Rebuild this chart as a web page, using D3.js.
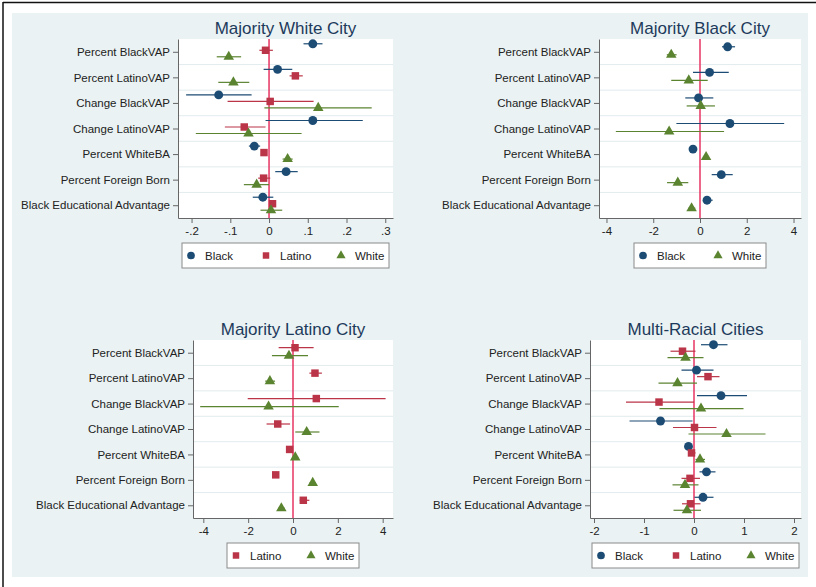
<!DOCTYPE html>
<html>
<head>
<meta charset="utf-8">
<script src="https://cdn.jsdelivr.net/npm/d3@7"></script>
<style>
  body { margin: 0; background: #fff; }
  svg { display: block; font-family: "Liberation Sans", Arial, sans-serif; }
</style>
</head>
<body>
<svg id="chart" width="816" height="587"></svg>
<script>
const categories = [
  "Percent BlackVAP", "Percent LatinoVAP", "Change BlackVAP", "Change LatinoVAP",
  "Percent WhiteBA", "Percent Foreign Born", "Black Educational Advantage"
];

// each row: [estimate, lower, upper]
const whiteCityBlack = [[0.113, 0.089, 0.138], [0.022, -0.014, 0.060], [-0.130, -0.214, -0.045], [0.113, -0.009, 0.242], [-0.038, -0.052, -0.023], [0.044, 0.016, 0.074], [-0.016, -0.042, 0.011]];
const whiteCityLatino = [[-0.009, -0.025, 0.010], [0.068, 0.053, 0.087], [0.003, -0.107, 0.115], [-0.064, -0.114, -0.009], [-0.013, -0.019, -0.006], [-0.014, -0.028, 0.003], [0.009, 0.003, 0.016]];
const whiteCityWhite = [[-0.104, -0.135, -0.072], [-0.092, -0.131, -0.051], [0.127, -0.012, 0.265], [-0.053, -0.189, 0.084], [0.048, 0.035, 0.061], [-0.032, -0.065, 0.0], [0.005, -0.022, 0.034]];

const blackCityBlack = [[1.18, 0.94, 1.50], [0.41, -0.30, 1.23], [-0.06, -0.63, 0.57], [1.28, -1.01, 3.60], [-0.30, -0.38, -0.20], [0.91, 0.50, 1.40], [0.30, 0.16, 0.54]];
const blackCityWhite = [[-1.23, -1.42, -1.00], [-0.48, -1.23, 0.33], [0.03, -0.57, 0.64], [-1.32, -3.60, 1.03], [0.26, 0.16, 0.36], [-0.95, -1.41, -0.50], [-0.36, -0.50, -0.20]];

const latinoCityLatino = [[0.09, -0.64, 0.92], [0.98, 0.73, 1.29], [1.04, -2.02, 4.13], [-0.68, -1.18, -0.13], [-0.15, -0.28, -0.01], [-0.77, -0.91, -0.64], [0.46, 0.30, 0.73]];
const latinoCityWhite = [[-0.18, -0.94, 0.67], [-1.03, -1.24, -0.80], [-1.09, -4.14, 2.04], [0.61, 0.10, 1.18], [0.10, -0.01, 0.24], [0.88, 0.74, 1.01], [-0.52, -0.67, -0.37]];

const multiCityBlack = [[0.39, 0.14, 0.67], [0.05, -0.25, 0.39], [0.54, 0.06, 1.06], [-0.67, -1.29, -0.03], [-0.11, -0.17, -0.04], [0.25, 0.11, 0.43], [0.18, 0.01, 0.39]];
const multiCityLatino = [[-0.23, -0.47, 0.03], [0.28, 0.06, 0.51], [-0.70, -1.36, 0.0], [0.01, -0.42, 0.45], [-0.05, -0.11, 0.03], [-0.08, -0.25, 0.12], [-0.07, -0.24, 0.13]];
const multiCityWhite = [[-0.17, -0.53, 0.19], [-0.33, -0.71, 0.06], [0.14, -0.69, 0.99], [0.65, -0.11, 1.43], [0.12, 0.03, 0.22], [-0.18, -0.43, 0.09], [-0.14, -0.41, 0.14]];

const whiteCityTicks = [-0.2, -0.1, 0, 0.1, 0.2, 0.3];
const blackCityTicks = [-4, -2, 0, 2, 4];
const latinoCityTicks = [-4, -2, 0, 2, 4];
const multiCityTicks = [-2, -1, 0, 1, 2];

const colors = { Black: "#1c4b74", Latino: "#bb3548", White: "#5b8431" };
const symbols = { Black: d3.symbolCircle, Latino: d3.symbolSquare, White: d3.symbolTriangle };
const symbolSize = { Black: 62, Latino: 56, White: 48 };

const panels = [
  { title: "Majority White City", left: 178, right: 393, top: 39, bottom: 218, domain: [-0.235, 0.32], ticks: whiteCityTicks,
    fmt: d => d === 0 ? "0" : d3.format(".1f")(d).replace("\u2212", "-").replace("0.", "."),
    series: [["Black", whiteCityBlack], ["Latino", whiteCityLatino], ["White", whiteCityWhite]] },
  { title: "Majority Black City", left: 599, right: 801, top: 39, bottom: 218, domain: [-4.32, 4.32], ticks: blackCityTicks,
    fmt: d => String(d),
    series: [["Black", blackCityBlack], ["White", blackCityWhite]] },
  { title: "Majority Latino City", left: 193, right: 393, top: 340, bottom: 518, domain: [-4.46, 4.46], ticks: latinoCityTicks,
    fmt: d => String(d),
    series: [["Latino", latinoCityLatino], ["White", latinoCityWhite]] },
  { title: "Multi-Racial Cities", left: 590, right: 801, top: 340, bottom: 518, domain: [-2.08, 2.14], ticks: multiCityTicks,
    fmt: d => String(d),
    series: [["Black", multiCityBlack], ["Latino", multiCityLatino], ["White", multiCityWhite]] }
];

const svg = d3.select("#chart");

// outer background and frame
svg.append("rect").attr("x", 12).attr("y", 13).attr("width", 796).attr("height", 564).attr("fill", "#eaf2f3");
svg.append("line").attr("x1", 3).attr("x2", 816).attr("y1", 2.5).attr("y2", 2.5).attr("stroke", "#111").attr("stroke-width", 1.5);
svg.append("line").attr("x1", 3).attr("x2", 3).attr("y1", 2).attr("y2", 587).attr("stroke", "#111").attr("stroke-width", 1.5);

panels.forEach(p => {
  const g = svg.append("g");
  const x = d3.scaleLinear().domain(p.domain).range([p.left, p.right]);
  const y = d3.scalePoint().domain(categories).range([p.top, p.bottom]).padding(0.5);
  const names = p.series.map(s => s[0]);
  const off = d3.scalePoint().domain(names).range(names.length === 3 ? [-8, 5] : [-5, 3]);

  g.append("rect")
    .attr("x", p.left).attr("y", p.top)
    .attr("width", p.right - p.left).attr("height", p.bottom - p.top)
    .attr("fill", "#fff");

  g.selectAll(".grid").data(categories.slice(0, -1)).join("line")
    .attr("x1", p.left).attr("x2", p.right)
    .attr("y1", d => y(d) + y.step() / 2).attr("y2", d => y(d) + y.step() / 2)
    .attr("stroke", "#e2ebed").attr("stroke-width", 1);

  g.append("line")
    .attr("x1", x(0)).attr("x2", x(0)).attr("y1", p.top).attr("y2", p.bottom)
    .attr("stroke", "#e63462").attr("stroke-width", 1.5);

  const xAxis = g.append("g").attr("transform", `translate(0,${p.bottom})`)
    .call(d3.axisBottom(x).tickValues(p.ticks).tickFormat(p.fmt).tickSize(5).tickSizeOuter(0).tickPadding(4));
  const yAxis = g.append("g").attr("transform", `translate(${p.left},0)`)
    .call(d3.axisLeft(y).tickSize(5).tickSizeOuter(0).tickPadding(3));
  [xAxis, yAxis].forEach(a => {
    a.selectAll("path, line").attr("stroke", "#666");
    a.selectAll("text").attr("fill", "#222").style("font-size", "11.5px")
      .style("font-family", "'Liberation Sans', Arial, sans-serif");
  });

  p.series.forEach(([name, rows]) => {
    const sg = g.append("g");
    sg.selectAll("line").data(rows).join("line")
      .attr("x1", d => x(d[1])).attr("x2", d => x(d[2]))
      .attr("y1", (d, i) => y(categories[i]) + off(name))
      .attr("y2", (d, i) => y(categories[i]) + off(name))
      .attr("stroke", colors[name]).attr("stroke-width", 1.2);
    sg.selectAll("path").data(rows).join("path")
      .attr("d", d3.symbol(symbols[name], symbolSize[name]))
      .attr("transform", (d, i) => `translate(${x(d[0])},${y(categories[i]) + off(name)})`)
      .attr("fill", colors[name]);
  });

  g.append("text")
    .attr("x", (p.left + p.right) / 2).attr("y", p.top - 5)
    .attr("text-anchor", "middle")
    .attr("fill", "#1d3a5c").style("font-size", "17px")
    .text(p.title);

  // legend
  const step = 75;
  const lw = names.length * step - 18;
  const lx = (p.left + p.right) / 2 - lw / 2;
  const ly = p.bottom + 25;
  const leg = g.append("g").attr("transform", `translate(${lx},${ly})`);
  leg.append("rect").attr("width", lw).attr("height", 25)
    .attr("fill", "#fff").attr("stroke", "#8a8a8a").attr("stroke-width", 1);
  names.forEach((name, i) => {
    const item = leg.append("g").attr("transform", `translate(${i * step + 9},12.5)`);
    item.append("path")
      .attr("d", d3.symbol(symbols[name], symbolSize[name] * 0.75))
      .attr("fill", colors[name]);
    item.append("text").attr("x", 14).attr("y", 4.5)
      .attr("fill", "#222").style("font-size", "11.5px")
      .text(name);
  });
});
</script>
</body>
</html>
